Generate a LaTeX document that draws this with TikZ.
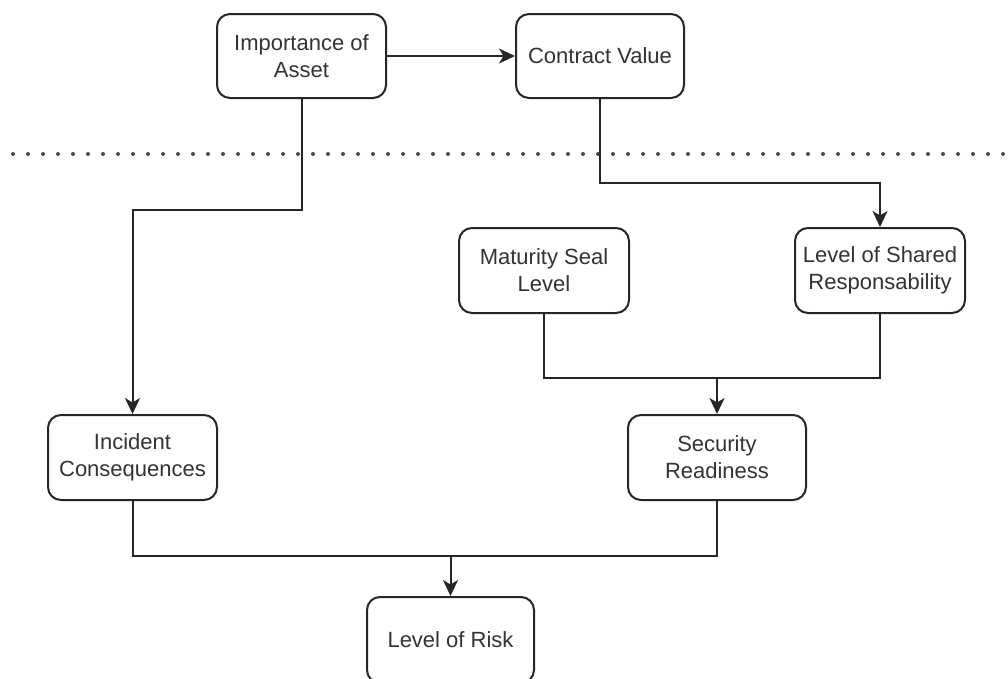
\documentclass[tikz,border=0pt]{standalone}
\usepackage{fontspec}
\setmainfont{Liberation Sans}
\usetikzlibrary{arrows.meta,calc}

\tikzset{
  box/.style={draw=black!85, line width=2pt, rounded corners=13pt, fill=white,
    align=center, text=black!80, inner sep=2pt,
    font=\fontsize{22pt}{27pt}\selectfont},
  wire/.style={draw=black!85, line width=2pt},
  flow/.style={wire, -{Stealth[length=16pt,width=15pt,inset=4.5pt]}},
  divider/.style={draw=black!70, line width=4pt, line cap=round,
    dash pattern=on 0pt off 15pt}
}

\begin{document}
\begin{tikzpicture}[x=1pt, y=-1pt]
  \useasboundingbox (0,0) rectangle (1008,678);
  \fill[white] (0,0) rectangle (1008,678);

  % separator between the upper and lower tier
  \coordinate (divL) at (13,154);
  \coordinate (divR) at (1008,154);
  \draw[divider] (divL) -- (divR);

  % factors
  \node[box, minimum width=169pt, minimum height=84pt] (imp) at (301.5,56) {Importance of\\Asset};
  \node[box, minimum width=168pt, minimum height=84pt] (con) at (600,56) {Contract Value};
  \node[box, minimum width=170pt, minimum height=85pt] (mat) at (544,270.5) {Maturity Seal\\Level};
  \node[box, minimum width=170pt, minimum height=85pt] (sha) at (880,270.5) {Level of Shared\\Responsability};
  \node[box, minimum width=169pt, minimum height=85pt] (inc) at (132.5,457.5) {Incident\\Consequences};
  \node[box, minimum width=178pt, minimum height=85pt] (sec) at (717,457.5) {Security\\Readiness};
  \node[box, minimum width=167pt, minimum height=86pt] (risk) at (450.5,640) {Level of Risk};

  % junction points of the merging connectors
  \coordinate (j1) at (717,378);
  \coordinate (j2) at (450.5,556);

  % connectors
  \draw[flow] (imp.east) -- (con.west);
  \draw[flow] (imp.south) -- (imp.south |- 0,210) -| (inc.north);
  \draw[flow] (con.south) -- (con.south |- 0,183) -| (sha.north);

  \draw[wire] (mat.south) |- (j1);
  \draw[wire] (sha.south) |- (j1);
  \draw[flow] (j1) -- (sec.north);

  \draw[wire] (inc.south) |- (j2);
  \draw[wire] (sec.south) |- (j2);
  \draw[flow] (j2) -- (risk.north);
\end{tikzpicture}
\end{document}
